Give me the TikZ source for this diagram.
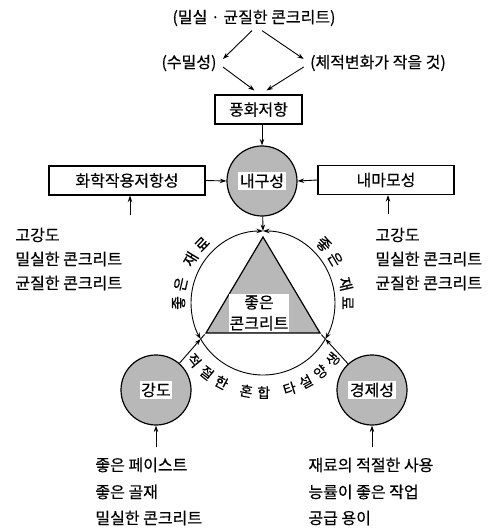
\documentclass[tikz,border=0pt]{standalone}
\usepackage{fontspec}
\setmainfont{Noto Sans CJK KR}[FakeBold=0.4]
\usetikzlibrary{arrows.meta,decorations.text,calc}
\newcommand\arcfont{\fontsize{15}{15}\selectfont}
\newcommand\arcfontb{\fontsize{14}{14}\selectfont}
\newcommand\mainsz{\fontsize{16}{19}\selectfont}
\setlength{\fboxsep}{1.5pt}
\begin{document}
\begin{tikzpicture}[x=1pt,y=1pt,
  line width=0.9pt,
  tip/.tip={Stealth[length=6.5pt,width=4.5pt]},
  arr/.style={-tip},
  lbl/.style={font=\mainsz, inner sep=1pt},
  boxn/.style={draw, line width=1.1pt, minimum height=29pt, inner sep=2pt, font=\mainsz},
  circ/.style={circle, draw, line width=1.2pt, fill=black!28, minimum size=70pt, inner sep=0pt, font=\mainsz},
  txt/.style={anchor=west, inner sep=0pt, font=\mainsz},
]
\useasboundingbox (0,0) rectangle (499,-529);

% top
\node[lbl] (top) at (254,-18) {(밀실 · 균질한 콘크리트)};
\node[lbl] (wt) at (189,-63) {(수밀성)};
\node[lbl] (vol) at (378,-63) {(체적변화가 작을 것)};
\node[boxn, minimum width=87pt] (fw) at (258.5,-109.5) {풍화저항};
\node[circ] (dur) at (262,-181) {\colorbox{white}{내구성}};
\node[boxn, minimum width=156pt] (chem) at (127,-180.5) {화학작용저항성};
\node[boxn, minimum width=136pt] (wear) at (386,-180) {내마모성};

\draw[arr] ([xshift=-2pt,yshift=-3pt]top.south) -- ([xshift=5pt,yshift=4pt]wt.east);
\draw[arr] ([xshift=8pt,yshift=-3pt]top.south) -- ([xshift=-5pt,yshift=4pt]vol.west);
\draw[arr] ([xshift=5pt,yshift=-4pt]wt.east) -- ([xshift=-4pt,yshift=4pt]fw.north);
\draw[arr] ([xshift=-5pt,yshift=-4pt]vol.west) -- ([xshift=8pt,yshift=4pt]fw.north);
\draw[arr] (dur.north |- fw.south) -- (dur.north);
\draw[arr] (chem.east) -- (dur.west);
\draw[arr] (wear.west) -- (dur.east);

\coordinate (ca) at (130,-215);
\draw[arr] (ca) -- (ca |- chem.south);
\coordinate (wa) at (388,-214);
\draw[arr] (wa) -- (wa |- wear.south);

% side texts
\node[txt] (l1) at (15,-235) {고강도};
\node[txt] (l2) at (15,-259) {밀실한 콘크리트};
\node[txt] (l3) at (15,-283) {균질한 콘크리트};
\node[txt] (r1) at (375,-235) {고강도};
\node[txt] (r2) at (375,-259) {밀실한 콘크리트};
\node[txt] (r3) at (375,-283) {균질한 콘크리트};

% big circle
\coordinate (C) at (263,-303);
\coordinate (T) at ($(C)+(90:72)$);
\coordinate (L) at ($(C)+(210:72)$);
\coordinate (Rp) at ($(C)+(330:72)$);
\draw[tip-tip] (T) arc[start angle=90, end angle=210, radius=72];
\draw[tip-tip] (T) arc[start angle=90, end angle=-30, radius=72];
\draw (L) arc[start angle=210, end angle=330, radius=72];

% triangle
\coordinate (ta) at (263,-237);
\coordinate (tl) at (206,-333);
\coordinate (tr) at (320,-333);
\draw[line width=1.2pt, fill=black!28] (ta) -- (tl) -- (tr) -- cycle;
\node[font=\fontsize{16}{21}\selectfont, align=center, fill=white, inner sep=1pt] (good) at (259,-313) {좋은\\콘크리트};

% lower circles
\node[circ] (gd) at (156,-390) {\colorbox{white}{강도}};
\node[circ] (ec) at (372,-390) {\colorbox{white}{경제성}};
\draw[arr] (dur) -- (T);
\draw[arr] (gd) -- (L);
\draw[arr] (ec) -- (Rp);
\coordinate (Lx) at ($(L)!-6pt!(gd.center)$);
\coordinate (Rx) at ($(Rp)!-6pt!(ec.center)$);
\draw (L) -- (Lx);
\draw (Rp) -- (Rx);

\coordinate (ga) at (156,-447);
\draw[arr] (ga) -- (gd.south);
\coordinate (ea) at (372,-447);
\draw[arr] (ea) -- (ec.south);

% arc texts
\path[decorate, decoration={text along path, text={|\arcfont|좋은 재료}, text align={fit to path}}]
  ($(C)+(185:79)$) arc[start angle=185, end angle=131, radius=79];
\path[decorate, decoration={text along path, text={|\arcfont|좋은 재료}, text align={fit to path}}]
  ($(C)+(49:79)$) arc[start angle=49, end angle=-5, radius=79];
\path[decorate, decoration={text along path, text={|\arcfontb|적절한 혼합 타설양생}, text align={fit to path}}]
  ($(C)+(216:95)$) arc[start angle=216, end angle=325, radius=95];

% bottom texts
\node[txt] (b1) at (95,-465) {좋은 페이스트};
\node[txt] (b2) at (95,-492) {좋은 골재};
\node[txt] (b3) at (95,-518) {밀실한 콘크리트};
\node[txt] (c1) at (308,-465) {재료의 적절한 사용};
\node[txt] (c2) at (308,-492) {능률이 좋은 작업};
\node[txt] (c3) at (308,-518) {공급 용이};
\end{tikzpicture}
\end{document}
